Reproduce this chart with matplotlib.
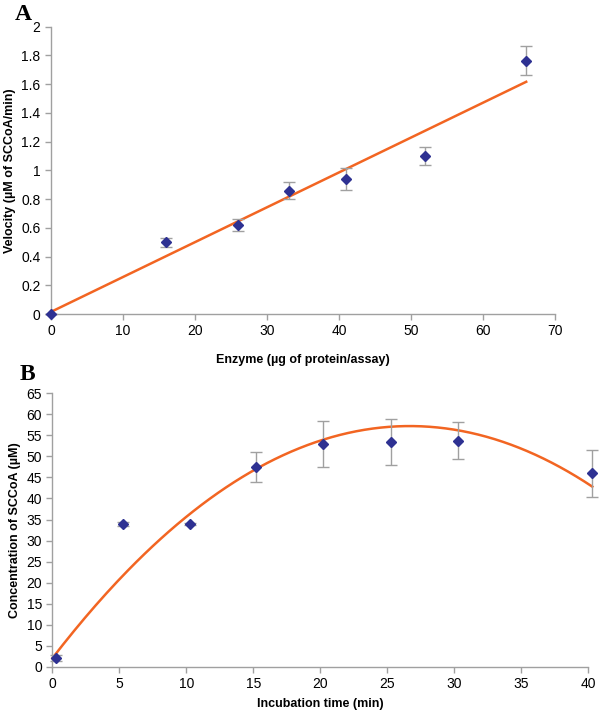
import matplotlib.pyplot as plt
import numpy as np
from matplotlib.ticker import FuncFormatter

# panel A: velocity vs enzyme amount
enzyme = [0, 16, 26, 33, 41, 52, 66]
velocity = [0.0, 0.50, 0.62, 0.86, 0.94, 1.10, 1.765]
velocity_err = [0.0, 0.03, 0.04, 0.06, 0.075, 0.065, 0.10]

# panel B: SCCoA concentration vs incubation time
time_min = [0.25, 5.25, 10.3, 15.2, 20.2, 25.25, 30.3, 40.3]
sccoa = [2.0, 33.9, 33.9, 47.5, 53.0, 53.4, 53.7, 46.0]
sccoa_err = [0.7, 0.5, 0.3, 3.5, 5.5, 5.4, 4.4, 5.6]
# 2nd order trendline as printed (c2, c1, c0)
sccoa_trend = [-0.0776, 4.14, 2.0]

MARKER_C = '#2e3192'
FIT_C = '#f26522'
GREY = '#a0a0a0'

plt.rcParams['font.family'] = ['Liberation Sans', 'DejaVu Sans']


def style_axes(ax):
    for s in ['top', 'right']:
        ax.spines[s].set_visible(False)
    for s in ['left', 'bottom']:
        ax.spines[s].set_color(GREY)
        ax.spines[s].set_linewidth(1.0)
    ax.tick_params(colors=GREY, labelcolor='black', labelsize=10, width=1.0, length=4)
    ax.yaxis.set_major_formatter(FuncFormatter(lambda v, p: '%g' % v))


fig = plt.figure(figsize=(6, 7.1), dpi=100)

# A
ax1 = fig.add_axes([0.085, 0.5577, 0.84, 0.4046])
ax1.errorbar(enzyme, velocity, yerr=velocity_err, fmt='D', color=MARKER_C, ms=5,
             ecolor=GREY, elinewidth=1.0, capsize=4, capthick=1.0, zorder=3, clip_on=False)
k1 = np.polyfit(enzyme, velocity, 1)
xa = np.array([0, max(enzyme)])
ax1.plot(xa, np.polyval(k1, xa), color=FIT_C, lw=1.8, zorder=2)
ax1.set_xlim(0, 70)
ax1.set_ylim(0, 2)
ax1.set_xticks(range(0, 71, 10))
ax1.set_yticks(np.arange(0, 2.01, 0.2))
style_axes(ax1)
ax1.set_xlabel('Enzyme (µg of protein/assay)', fontsize=9, fontweight='bold', labelpad=11)
ax1.set_ylabel('Velocity (µM of SCCoA/min)', fontsize=9, fontweight='bold', labelpad=4)

# B
ax2 = fig.add_axes([0.0872, 0.061, 0.8933, 0.385])
ax2.errorbar(time_min, sccoa, yerr=sccoa_err, fmt='D', color=MARKER_C, ms=5,
             ecolor=GREY, elinewidth=1.0, capsize=4, capthick=1.0, zorder=3, clip_on=False)
xb = np.linspace(0, max(time_min), 200)
ax2.plot(xb, np.polyval(sccoa_trend, xb), color=FIT_C, lw=1.8, zorder=2, clip_on=False)
ax2.set_xlim(0, 40)
ax2.set_ylim(0, 65)
ax2.set_xticks(range(0, 41, 5))
ax2.set_yticks(range(0, 66, 5))
style_axes(ax2)
ax2.set_xlabel('Incubation time (min)', fontsize=9, fontweight='bold', labelpad=5)
ax2.set_ylabel('Concentration of SCCoA (µM)', fontsize=9, fontweight='bold', labelpad=4)

fig.text(0.025, 0.995, 'A', fontsize=17, fontweight='bold', family='Liberation Serif', va='top')
fig.text(0.033, 0.488, 'B', fontsize=17, fontweight='bold', family='Liberation Serif', va='top')

fig.savefig('out.png', dpi=100)
